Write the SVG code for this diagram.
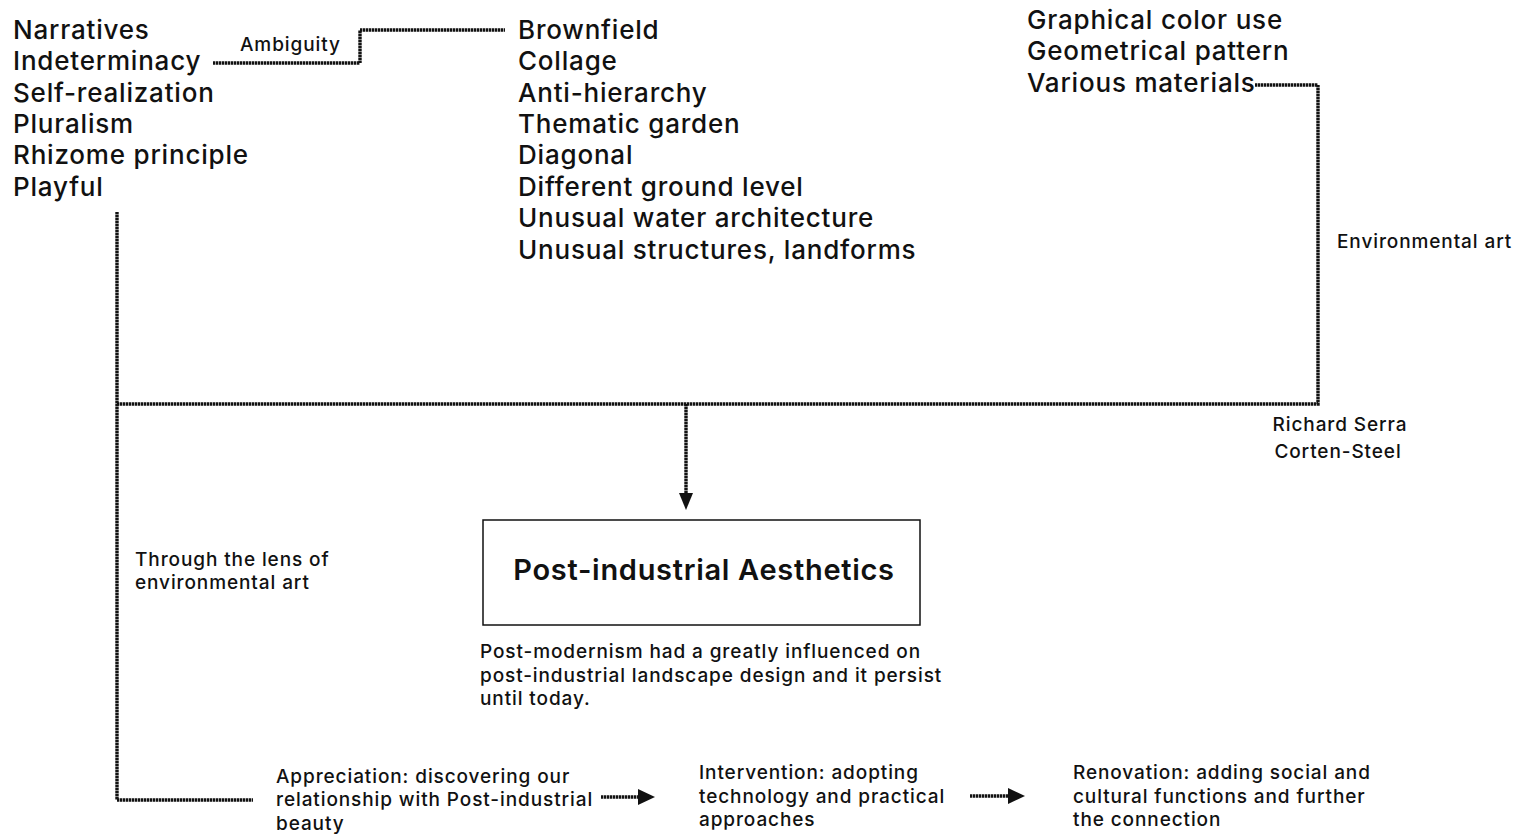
<svg xmlns="http://www.w3.org/2000/svg" width="1529" height="836" viewBox="0 0 1529 836">
<defs>
<style>
.big{font-family:Inter,"Open Sans","Liberation Sans",sans-serif;font-size:26px;font-weight:500;letter-spacing:0.8px;fill:#111}
.sm{font-family:Inter,"Open Sans","Liberation Sans",sans-serif;font-size:19px;font-weight:500;letter-spacing:0.9px;fill:#111}
.title{font-family:Inter,"Open Sans","Liberation Sans",sans-serif;font-size:29px;font-weight:600;letter-spacing:0.7px;fill:#111}
.ln{fill:none;stroke:#111;stroke-width:3.4;stroke-dasharray:2.4 0.6}
</style>
</defs>
<rect width="1529" height="836" fill="#fff"/>
<g id="concepts">
<text class="big" x="13" y="39">Narratives</text>
<text class="big" x="13" y="70">Indeterminacy</text>
<text class="big" x="13" y="102">Self-realization</text>
<text class="big" x="13" y="133">Pluralism</text>
<text class="big" x="13" y="164">Rhizome principle</text>
<text class="big" x="13" y="196">Playful</text>
</g>
<g id="features">
<text class="big" x="518" y="39">Brownfield</text>
<text class="big" x="518" y="70">Collage</text>
<text class="big" x="518" y="102">Anti-hierarchy</text>
<text class="big" x="518" y="133">Thematic garden</text>
<text class="big" x="518" y="164">Diagonal</text>
<text class="big" x="518" y="196">Different ground level</text>
<text class="big" x="518" y="227">Unusual water architecture</text>
<text class="big" x="518" y="259">Unusual structures, landforms</text>
</g>
<g id="art">
<text class="big" x="1027" y="29">Graphical color use</text>
<text class="big" x="1027" y="60">Geometrical pattern</text>
<text class="big" x="1027" y="92">Various materials</text>
</g>
<g id="labels">
<text class="sm" x="240" y="51">Ambiguity</text>
<text class="sm" x="1337" y="248">Environmental art</text>
<text class="sm" x="1340" y="431" text-anchor="middle">Richard Serra</text>
<text class="sm" x="1338" y="458" text-anchor="middle">Corten-Steel</text>
<text class="sm" x="135" y="566">Through the lens of</text>
<text class="sm" x="135" y="589">environmental art</text>
</g>
<g id="main">
<rect x="483" y="520" width="437" height="105" fill="#fff" stroke="#111" stroke-width="1.5"/>
<text class="title" x="704" y="580" text-anchor="middle">Post-industrial Aesthetics</text>
<text class="sm" x="480" y="658">Post-modernism had a greatly influenced on</text>
<text class="sm" x="480" y="682">post-industrial landscape design and it persist</text>
<text class="sm" x="480" y="705">until today.</text>
</g>
<g id="appreciation">
<text class="sm" x="276" y="783">Appreciation: discovering our</text>
<text class="sm" x="276" y="806">relationship with Post-industrial</text>
<text class="sm" x="276" y="830">beauty</text>
</g>
<g id="intervention">
<text class="sm" x="699" y="779">Intervention: adopting</text>
<text class="sm" x="699" y="803">technology and practical</text>
<text class="sm" x="699" y="826">approaches</text>
</g>
<g id="renovation">
<text class="sm" x="1073" y="779">Renovation: adding social and</text>
<text class="sm" x="1073" y="803">cultural functions and further</text>
<text class="sm" x="1073" y="826">the connection</text>
</g>
<g id="connectors">
<path class="ln" d="M213,63 H360 V30 H505"/>
<path class="ln" d="M1255,85 H1318 V404 H117"/>
<path class="ln" d="M117,212 V800 H253"/>
<path class="ln" d="M686,404 V496"/>
<path d="M679,493 L686,510 L693,493 Z" fill="#111"/>
<path class="ln" d="M601,797 H640"/>
<path d="M638,789 L655,797 L638,805 Z" fill="#111"/>
<path class="ln" d="M970,796 H1010"/>
<path d="M1008,788 L1025,796 L1008,804 Z" fill="#111"/>
</g>
</svg>
